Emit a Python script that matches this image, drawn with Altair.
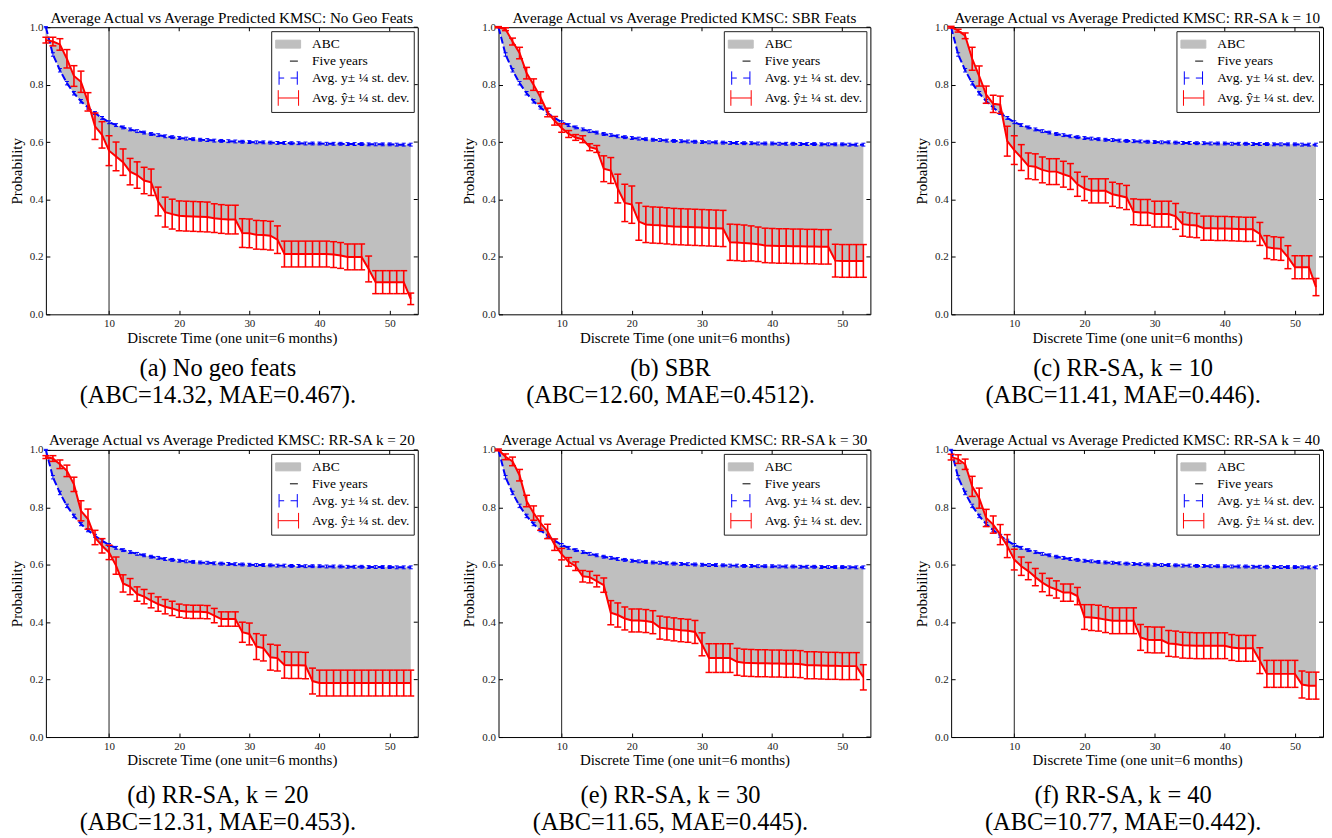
import altair as alt
import pandas as pd

# ---------------- data ----------------
X = list(range(1, 54))
FIVE_YEARS = 10

BLUE = [1.000, 0.905, 0.850, 0.805, 0.770, 0.742, 0.720, 0.701, 0.684, 0.669,
        0.659, 0.651, 0.644, 0.638, 0.633, 0.628, 0.624, 0.620, 0.617, 0.614,
        0.612, 0.610, 0.608, 0.607, 0.605, 0.604, 0.603, 0.602, 0.601, 0.600,
        0.599, 0.599, 0.598, 0.597, 0.597, 0.596, 0.596, 0.595, 0.595, 0.595,
        0.594, 0.594, 0.594, 0.593, 0.593, 0.593, 0.592, 0.592, 0.592, 0.592,
        0.591, 0.591, 0.591]
BLUE_ERR = [0.002, 0.006, 0.006, 0.006, 0.006, 0.006, 0.005, 0.005, 0.005, 0.005,
            0.005, 0.005, 0.005, 0.005, 0.005, 0.005, 0.005, 0.005, 0.005, 0.005,
            0.005, 0.005, 0.005, 0.005, 0.005, 0.005, 0.005, 0.005, 0.005, 0.005,
            0.005, 0.005, 0.005, 0.005, 0.005, 0.005, 0.005, 0.005, 0.005, 0.005,
            0.005, 0.005, 0.005, 0.005, 0.005, 0.005, 0.005, 0.005, 0.005, 0.005,
            0.005, 0.005, 0.005]

RED_A = [0.955, 0.950, 0.940, 0.890, 0.830, 0.810, 0.740, 0.655, 0.625, 0.570,
         0.550, 0.530, 0.497, 0.485, 0.466, 0.460, 0.393, 0.356, 0.349, 0.343,
         0.342, 0.341, 0.340, 0.339, 0.335, 0.332, 0.330, 0.330, 0.283, 0.282,
         0.277, 0.276, 0.274, 0.260, 0.210, 0.210, 0.210, 0.210, 0.210, 0.210,
         0.210, 0.208, 0.205, 0.200, 0.200, 0.200, 0.158, 0.112, 0.112, 0.112,
         0.112, 0.112, 0.054]
ERR_A = [0.010, 0.015, 0.020, 0.032, 0.036, 0.037, 0.032, 0.046, 0.046, 0.052,
         0.050, 0.046, 0.046, 0.046, 0.046, 0.046, 0.050, 0.052, 0.052, 0.052,
         0.052, 0.052, 0.052, 0.052, 0.050, 0.050, 0.050, 0.050, 0.050, 0.050,
         0.050, 0.050, 0.050, 0.048, 0.045, 0.045, 0.045, 0.045, 0.045, 0.045,
         0.045, 0.045, 0.045, 0.045, 0.045, 0.045, 0.045, 0.040, 0.040, 0.040,
         0.040, 0.040, 0.020]

RED_B = [1.000, 0.993, 0.950, 0.910, 0.840, 0.800, 0.755, 0.703, 0.674, 0.649,
         0.628, 0.616, 0.610, 0.582, 0.576, 0.507, 0.501, 0.438, 0.388, 0.382,
         0.323, 0.313, 0.311, 0.310, 0.308, 0.306, 0.305, 0.304, 0.303, 0.302,
         0.301, 0.300, 0.299, 0.251, 0.250, 0.248, 0.247, 0.244, 0.240, 0.239,
         0.238, 0.238, 0.237, 0.237, 0.236, 0.236, 0.235, 0.235, 0.187, 0.186,
         0.186, 0.186, 0.186]
ERR_B = [0.002, 0.005, 0.012, 0.020, 0.020, 0.020, 0.020, 0.015, 0.015, 0.015,
         0.012, 0.010, 0.012, 0.012, 0.012, 0.045, 0.045, 0.050, 0.065, 0.065,
         0.065, 0.063, 0.063, 0.063, 0.063, 0.063, 0.063, 0.063, 0.063, 0.063,
         0.063, 0.063, 0.063, 0.063, 0.063, 0.063, 0.061, 0.060, 0.060, 0.060,
         0.060, 0.060, 0.060, 0.060, 0.060, 0.060, 0.060, 0.060, 0.057, 0.057,
         0.057, 0.057, 0.057]

RED_C = [1.000, 0.988, 0.970, 0.890, 0.830, 0.765, 0.733, 0.730, 0.603, 0.572,
         0.546, 0.517, 0.514, 0.503, 0.497, 0.497, 0.488, 0.480, 0.453, 0.438,
         0.430, 0.430, 0.430, 0.418, 0.413, 0.407, 0.357, 0.355, 0.355, 0.349,
         0.349, 0.349, 0.341, 0.314, 0.311, 0.309, 0.300, 0.300, 0.299, 0.299,
         0.298, 0.297, 0.296, 0.296, 0.280, 0.234, 0.230, 0.228, 0.199, 0.164,
         0.164, 0.164, 0.095]
ERR_C = [0.003, 0.005, 0.010, 0.040, 0.035, 0.030, 0.030, 0.030, 0.052, 0.050,
         0.045, 0.045, 0.045, 0.045, 0.045, 0.045, 0.045, 0.045, 0.042, 0.042,
         0.042, 0.042, 0.042, 0.042, 0.042, 0.042, 0.045, 0.045, 0.045, 0.045,
         0.045, 0.045, 0.045, 0.042, 0.042, 0.042, 0.042, 0.042, 0.042, 0.042,
         0.042, 0.042, 0.042, 0.042, 0.040, 0.040, 0.040, 0.040, 0.040, 0.040,
         0.040, 0.040, 0.030]

RED_D = [0.975, 0.970, 0.950, 0.927, 0.880, 0.788, 0.759, 0.695, 0.666, 0.643,
         0.597, 0.535, 0.524, 0.498, 0.489, 0.475, 0.463, 0.454, 0.448, 0.440,
         0.437, 0.436, 0.436, 0.435, 0.423, 0.411, 0.411, 0.411, 0.365, 0.359,
         0.315, 0.310, 0.278, 0.275, 0.251, 0.250, 0.250, 0.249, 0.195, 0.188,
         0.188, 0.188, 0.188, 0.188, 0.188, 0.188, 0.188, 0.188, 0.188, 0.188,
         0.188, 0.188, 0.188]
ERR_D = [0.005, 0.010, 0.015, 0.020, 0.025, 0.035, 0.035, 0.025, 0.025, 0.025,
         0.030, 0.030, 0.028, 0.025, 0.025, 0.025, 0.025, 0.025, 0.025, 0.023,
         0.023, 0.023, 0.023, 0.023, 0.025, 0.025, 0.025, 0.025, 0.035, 0.038,
         0.045, 0.045, 0.045, 0.045, 0.046, 0.046, 0.046, 0.046, 0.045, 0.045,
         0.045, 0.045, 0.045, 0.045, 0.045, 0.045, 0.045, 0.045, 0.045, 0.045,
         0.045, 0.045, 0.045]

RED_E = [1.000, 0.976, 0.960, 0.912, 0.822, 0.780, 0.745, 0.716, 0.670, 0.637,
         0.610, 0.595, 0.560, 0.557, 0.543, 0.529, 0.433, 0.425, 0.413, 0.406,
         0.406, 0.404, 0.400, 0.381, 0.378, 0.375, 0.372, 0.370, 0.366, 0.323,
         0.275, 0.275, 0.275, 0.275, 0.262, 0.259, 0.258, 0.257, 0.257, 0.256,
         0.256, 0.255, 0.255, 0.254, 0.250, 0.250, 0.249, 0.248, 0.248, 0.247,
         0.247, 0.247, 0.208]
ERR_E = [0.003, 0.010, 0.015, 0.020, 0.020, 0.025, 0.025, 0.025, 0.020, 0.020,
         0.015, 0.015, 0.020, 0.020, 0.020, 0.025, 0.042, 0.042, 0.040, 0.040,
         0.040, 0.040, 0.040, 0.040, 0.040, 0.040, 0.040, 0.040, 0.040, 0.040,
         0.050, 0.050, 0.050, 0.050, 0.047, 0.047, 0.047, 0.047, 0.047, 0.047,
         0.047, 0.047, 0.047, 0.047, 0.047, 0.047, 0.047, 0.047, 0.047, 0.047,
         0.047, 0.047, 0.044]

RED_F = [0.975, 0.968, 0.950, 0.873, 0.832, 0.763, 0.740, 0.705, 0.665, 0.618,
         0.595, 0.578, 0.557, 0.538, 0.523, 0.514, 0.503, 0.503, 0.491, 0.418,
         0.416, 0.414, 0.409, 0.405, 0.405, 0.405, 0.405, 0.347, 0.339, 0.338,
         0.338, 0.326, 0.324, 0.320, 0.319, 0.318, 0.318, 0.318, 0.318, 0.318,
         0.312, 0.309, 0.309, 0.309, 0.266, 0.220, 0.220, 0.220, 0.220, 0.220,
         0.183, 0.179, 0.179]
ERR_F = [0.010, 0.015, 0.018, 0.035, 0.035, 0.030, 0.030, 0.035, 0.040, 0.036,
         0.032, 0.030, 0.030, 0.032, 0.030, 0.030, 0.030, 0.030, 0.030, 0.043,
         0.045, 0.045, 0.045, 0.045, 0.045, 0.045, 0.045, 0.045, 0.045, 0.045,
         0.045, 0.045, 0.045, 0.045, 0.045, 0.045, 0.045, 0.045, 0.045, 0.045,
         0.045, 0.045, 0.045, 0.045, 0.045, 0.047, 0.047, 0.047, 0.047, 0.047,
         0.047, 0.047, 0.047]

TITLE_PREFIX = "Average Actual vs Average Predicted KMSC: "
TITLES = ["No Geo Feats", "SBR Feats", "RR-SA k = 10",
          "RR-SA k = 20", "RR-SA k = 30", "RR-SA k = 40"]
CAPTIONS_1 = ["(a) No geo feats", "(b) SBR", "(c) RR-SA, k = 10",
              "(d) RR-SA, k = 20", "(e) RR-SA, k = 30", "(f) RR-SA, k = 40"]
CAPTIONS_2 = ["(ABC=14.32, MAE=0.467).", "(ABC=12.60, MAE=0.4512).",
              "(ABC=11.41, MAE=0.446).", "(ABC=12.31, MAE=0.453).",
              "(ABC=11.65, MAE=0.445).", "(ABC=10.77, MAE=0.442)."]
REDS = [RED_A, RED_B, RED_C, RED_D, RED_E, RED_F]
ERRS = [ERR_A, ERR_B, ERR_C, ERR_D, ERR_E, ERR_F]

LEGEND_LABELS = ["ABC", "Five years", "Avg. y\u00b1 \u00bc st. dev.",
                 "Avg. \u0177\u00b1 \u00bc st. dev."]
X_TICKS = [10, 20, 30, 40, 50]
Y_TICKS = [0.0, 0.2, 0.4, 0.6, 0.8, 1.0]
X_MAX = 54
Y_MAX = 1.0

# ---------------- styling ----------------
FONT = "Liberation Serif"
W, H = 373, 288
CAP_GAP = [55, 59]          # caption distance below the plot, per row
XSC = alt.Scale(domain=[1, X_MAX], nice=False, zero=False)
YSC = alt.Scale(domain=[0, Y_MAX], nice=False, zero=False)

AX_BOTTOM = alt.Axis(orient="bottom", values=X_TICKS, title="Discrete Time (one unit=6 months)",
                     offset=-4, tickSize=4, domain=False, grid=False, labelPadding=3,
                     titlePadding=2, labelFont=FONT, labelFontSize=11, labelColor="#222",
                     titleFont=FONT, titleFontSize=15, titleFontWeight="normal",
                     titleColor="black", tickColor="black", labelFlush=False)
AX_LEFT = alt.Axis(orient="left", values=Y_TICKS, format=".1f", title="Probability",
                   offset=-4, tickSize=4, domain=False, grid=False, labelPadding=3,
                   titlePadding=5, labelFont=FONT, labelFontSize=11, labelColor="#222",
                   titleFont=FONT, titleFontSize=15, titleFontWeight="normal",
                   titleColor="black", tickColor="black", labelFlush=False)

SHAPES = [
    "M-1,-0.47L1.94,-0.47L1.94,0.47L-1,0.47Z",
    "M0.68,0L1.62,0",
    "M-0.6,-0.79L-0.6,0.79M-0.6,0L0,0M0.76,0L1.55,0M1.55,-0.79L1.55,0.79",
    "M-0.7,-0.92L-0.7,0.92M-0.7,0L1.7,0M1.7,-0.92L1.7,0.92",
]
LEG = alt.Legend(title=None, orient="top-right", offset=4, padding=4, strokeColor="#222",
                 fillColor="white", symbolSize=289, symbolStrokeWidth=2, labelFont=FONT,
                 labelFontSize=13.5, labelColor="black", rowPadding=1, labelOffset=19)


def panel(i):
    df = pd.DataFrame({"x": X, "blue": BLUE, "berr": BLUE_ERR,
                       "red": REDS[i], "rerr": ERRS[i]})
    df["blo"] = df["blue"] - df["berr"]
    df["bhi"] = df["blue"] + df["berr"]
    df["rlo"] = df["red"] - df["rerr"]
    df["rhi"] = df["red"] + df["rerr"]

    base = alt.Chart(df)
    xq = alt.X("x:Q", scale=XSC)

    area = base.mark_area(color="#bfbfbf", opacity=1).encode(
        x=alt.X("x:Q", scale=XSC, axis=AX_BOTTOM),
        y=alt.Y("blue:Q", scale=YSC, axis=AX_LEFT),
        y2="red:Q")
    vline = alt.Chart(pd.DataFrame({"t": [FIVE_YEARS]})).mark_rule(
        color="#222", strokeWidth=1).encode(x=alt.X("t:Q", scale=XSC))
    b_rule = base.mark_rule(color="blue", strokeWidth=1).encode(
        x=xq, y=alt.Y("blo:Q", scale=YSC), y2="bhi:Q")
    b_lo = base.mark_tick(orient="horizontal", color="blue", size=4, thickness=1,
                          opacity=1).encode(x=xq, y=alt.Y("blo:Q", scale=YSC))
    b_hi = base.mark_tick(orient="horizontal", color="blue", size=4, thickness=1,
                          opacity=1).encode(x=xq, y=alt.Y("bhi:Q", scale=YSC))
    b_line = base.mark_line(color="blue", strokeWidth=2, strokeDash=[7, 3]).encode(
        x=xq, y=alt.Y("blue:Q", scale=YSC))
    r_rule = base.mark_rule(color="red", strokeWidth=1.6).encode(
        x=xq, y=alt.Y("rlo:Q", scale=YSC), y2="rhi:Q")
    r_lo = base.mark_tick(orient="horizontal", color="red", size=7, thickness=1.5,
                          opacity=1).encode(x=xq, y=alt.Y("rlo:Q", scale=YSC))
    r_hi = base.mark_tick(orient="horizontal", color="red", size=7, thickness=1.5,
                          opacity=1).encode(x=xq, y=alt.Y("rhi:Q", scale=YSC))
    r_line = base.mark_line(color="red", strokeWidth=2).encode(
        x=xq, y=alt.Y("red:Q", scale=YSC))

    # inward frame ticks on the top and right edges
    top_ticks = alt.Chart(pd.DataFrame({"t": X_TICKS})).mark_tick(
        orient="vertical", size=4, thickness=1, yOffset=2, color="black", opacity=1
    ).encode(x=alt.X("t:Q", scale=XSC), y=alt.datum(Y_MAX, scale=YSC))
    right_ticks = alt.Chart(pd.DataFrame({"v": Y_TICKS})).mark_tick(
        orient="horizontal", size=4, thickness=1, xOffset=-2, color="black", opacity=1
    ).encode(y=alt.Y("v:Q", scale=YSC), x=alt.datum(X_MAX, scale=XSC))

    gap = CAP_GAP[i // 3]
    cap = alt.Chart(pd.DataFrame({"c1": [CAPTIONS_1[i]], "c2": [CAPTIONS_2[i]]}))
    cap1 = cap.mark_text(font=FONT, fontSize=24.5, align="center", baseline="middle",
                         color="black").encode(x=alt.value(W / 2 - 14), y=alt.value(H + gap),
                                               text="c1:N")
    cap2 = cap.mark_text(font=FONT, fontSize=24.5, align="center", baseline="middle",
                         color="black").encode(x=alt.value(W / 2 - 14),
                                               y=alt.value(H + gap + 27), text="c2:N")

    leg_df = pd.DataFrame({"lab": LEGEND_LABELS, "x": [1, 1, 1, 1], "y": [-1, -1, -1, -1]})
    dummy = alt.Chart(leg_df).mark_point(filled=True, clip=True, opacity=1).encode(
        x=alt.X("x:Q", scale=XSC),
        y=alt.Y("y:Q", scale=YSC),
        fill=alt.Fill("lab:N", scale=alt.Scale(domain=LEGEND_LABELS,
                      range=["#bfbfbf", "transparent", "transparent", "transparent"]),
                      legend=LEG),
        stroke=alt.Stroke("lab:N", scale=alt.Scale(domain=LEGEND_LABELS,
                          range=["#bfbfbf", "black", "blue", "red"]), legend=LEG),
        shape=alt.Shape("lab:N", scale=alt.Scale(domain=LEGEND_LABELS, range=SHAPES),
                        legend=LEG),
        strokeWidth=alt.StrokeWidth("lab:N", scale=alt.Scale(domain=LEGEND_LABELS,
                                    range=[1, 1, 2, 2]), legend=LEG),
    )

    return alt.layer(area, vline, b_rule, b_lo, b_hi, b_line, r_rule, r_lo, r_hi, r_line,
                     top_ticks, right_ticks, cap1, cap2, dummy).properties(
        width=W, height=H,
        title=alt.TitleParams(TITLE_PREFIX + TITLES[i], font=FONT, fontSize=15.2,
                              fontWeight="normal", offset=-4.5, color="black",
                              anchor="middle"))


panels = [panel(i) for i in range(6)]

chart = alt.ConcatChart(
    concat=panels, columns=3, bounds="flush", spacing={"row": 136, "column": 81}
).resolve_scale(
    x="independent", y="independent", fill="independent", stroke="independent",
    shape="independent", strokeWidth="independent"
).properties(
    padding={"left": 0, "top": 0, "right": 0, "bottom": 0}
).configure_view(stroke="black", strokeWidth=1)

chart.save("out.html", embed_options={"renderer": "svg", "actions": False})
